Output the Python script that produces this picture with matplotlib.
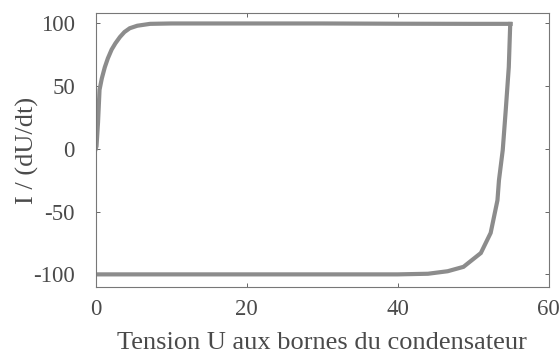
import matplotlib
matplotlib.use("Agg")
import matplotlib.pyplot as plt

# branche montante (charge) puis branche descendante (decharge)
u_charge = [0.0, 0.1, 0.3, 0.5, 0.8, 1.2, 1.6, 2.1, 2.6, 3.2, 3.8, 4.5, 5.5, 7.2, 10.0, 20.0, 30.0, 40.0, 50.0, 54.9]
i_charge = [0.0, 2.0, 21.0, 47.0, 56.0, 65.0, 72.0, 79.0, 84.0, 89.0, 93.0, 96.0, 98.0, 99.5, 99.8, 99.8, 99.8, 99.6, 99.5, 99.5]

u_decharge = [54.9, 54.9, 54.7, 54.3, 53.9, 53.4, 53.2, 52.3, 51.0, 48.7, 46.6, 44.0, 40.0, 30.0, 20.0, 10.0, 0.0]
i_decharge = [99.5, 101.0, 65.0, 31.0, -1.0, -25.0, -41.0, -67.0, -83.0, -94.0, -97.5, -99.5, -100.0, -100.0, -100.0, -100.0, -100.0]

plt.rcParams['font.family'] = ['Liberation Serif', 'DejaVu Serif']
plt.rcParams['axes.unicode_minus'] = False

fig = plt.figure(figsize=(5.6, 3.56), dpi=100)
ax = fig.add_axes([0.171, 0.194, 0.809, 0.769])

gris = '#8c8c8c'
ax.plot(u_charge, i_charge, color=gris, lw=3.0, solid_joinstyle='miter')
ax.plot(u_decharge, i_decharge, color=gris, lw=3.0, solid_joinstyle='miter')

ax.set_xlim(0, 60)
ax.set_ylim(-110, 108)
ax.set_xticks([0, 20, 40, 60])
ax.set_yticks([-100, -50, 0, 50, 100])

for s in ax.spines.values():
    s.set_color('#777777')
    s.set_linewidth(0.8)
ax.tick_params(direction='in', top=True, right=True, length=3, width=0.7,
               color='#666666', labelsize=16.5, labelcolor='#4a4a4a')
ax.tick_params(axis='x', pad=9)
ax.tick_params(axis='y', pad=15)

ax.set_xlabel('Tension U aux bornes du condensateur', fontsize=19, color='#4a4a4a', labelpad=8)
ax.set_ylabel('I / (dU/dt)', fontsize=19, color='#4a4a4a', labelpad=-4)

fig.savefig('out.png', dpi=100)
